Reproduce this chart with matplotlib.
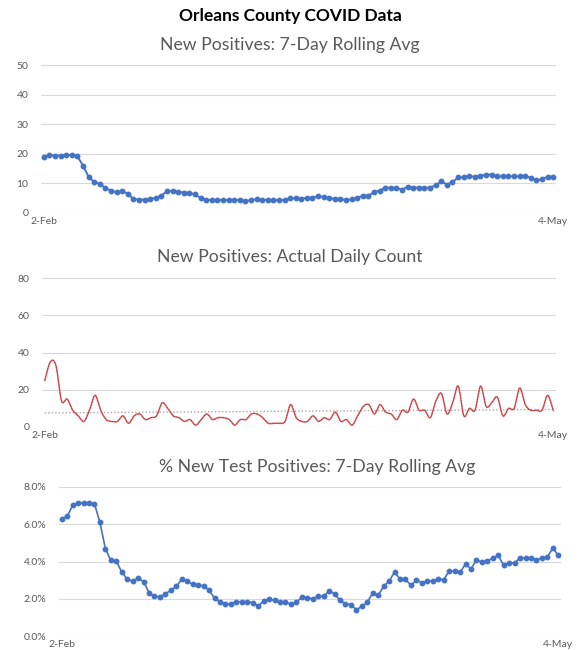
import numpy as np
import matplotlib
matplotlib.use("Agg")
import matplotlib.pyplot as plt
from matplotlib.ticker import FuncFormatter

plt.rcParams['font.family'] = ['Lato', 'DejaVu Sans']

main_title = "Orleans County COVID Data"
titles = ["New Positives: 7-Day Rolling Avg",
          "New Positives: Actual Daily Count",
          "% New Test Positives: 7-Day Rolling Avg"]
x_labels = ["2-Feb", "4-May"]

rolling_avg = [18.8, 19.6, 19.4, 19.4, 19.5, 19.7, 19.2, 16.0, 12.3, 10.4,
               9.9, 8.4, 7.5, 7.0, 7.5, 6.5, 4.8, 4.5, 4.5, 4.8,
               5.1, 5.9, 7.3, 7.4, 7.2, 6.9, 6.8, 6.3, 5.0, 4.5,
               4.3, 4.3, 4.4, 4.4, 4.4, 4.4, 4.0, 4.4, 4.6, 4.5,
               4.4, 4.4, 4.3, 4.4, 5.0, 4.9, 4.8, 5.1, 5.2, 5.6,
               5.5, 5.0, 4.8, 4.8, 4.3, 4.7, 5.0, 5.9, 5.9, 7.0,
               7.6, 8.6, 8.5, 8.4, 7.9, 8.9, 8.6, 8.6, 8.5, 8.6,
               9.3, 10.7, 9.6, 10.4, 12.0, 12.0, 12.6, 12.1, 12.5, 13.0,
               13.0, 12.4, 12.4, 12.4, 12.4, 12.4, 12.5, 11.9, 11.0, 11.4,
               12.3, 12.3]

daily_count = [25, 35, 33, 14, 15, 9, 6, 3, 9, 17,
               9, 4, 3, 3, 6, 2, 6, 7, 4, 5,
               6, 13, 10, 6, 5, 3, 4, 1, 4, 7,
               4, 5, 5, 4, 1, 4, 4, 7, 7, 5,
               2, 2, 2, 3, 12, 5, 3, 3, 6, 3,
               5, 4, 8, 3, 4, 1, 6, 11, 12, 7,
               12, 8, 7, 4, 9, 8, 15, 9, 9, 5,
               14, 18, 7, 13, 22, 6, 10, 9, 22, 11,
               13, 16, 6, 10, 10, 21, 12, 9, 9, 9,
               17, 9]

pct_positive = [6.30, 6.42, 7.01, 7.14, 7.14, 7.16, 7.10, 6.10, 4.69, 4.06,
                4.02, 3.43, 3.06, 2.93, 3.11, 2.92, 2.33, 2.13, 2.09, 2.27,
                2.45, 2.67, 3.04, 2.95, 2.77, 2.72, 2.70, 2.45, 2.04, 1.84,
                1.70, 1.74, 1.84, 1.84, 1.84, 1.79, 1.61, 1.88, 1.97, 1.91,
                1.82, 1.82, 1.70, 1.80, 2.09, 2.05, 2.00, 2.13, 2.13, 2.42,
                2.27, 1.91, 1.74, 1.68, 1.41, 1.59, 1.82, 2.31, 2.18, 2.67,
                2.95, 3.43, 3.06, 3.04, 2.72, 2.99, 2.86, 2.95, 2.95, 3.08,
                3.02, 3.49, 3.49, 3.43, 3.85, 3.61, 4.06, 3.99, 4.01, 4.19,
                4.33, 3.79, 3.92, 3.92, 4.20, 4.19, 4.20, 4.10, 4.17, 4.24,
                4.72, 4.33]

W, H = 579, 650
fig = plt.figure(figsize=(W / 100, H / 100), dpi=100)
fig.patch.set_facecolor("white")

def ax_at(left, right, top, bottom):
    return fig.add_axes([left / W, 1 - bottom / H, (right - left) / W, (bottom - top) / H])

BLUE = "#4472C4"
GRID = "#d9d9d9"
TXT = "#595959"

def style(ax, ymax, step, fmt=None):
    n = len(rolling_avg)
    ax.set_xlim(-0.5, n - 0.5)
    ax.set_ylim(0, ymax)
    ax.set_yticks(np.arange(0, ymax + step / 2, step))
    for s in ax.spines.values():
        s.set_visible(False)
    ax.grid(axis="y", color=GRID, linewidth=0.8)
    ax.set_axisbelow(True)
    ax.tick_params(axis="both", length=0, labelsize=7.5, colors=TXT, pad=9)
    ax.tick_params(axis="x", pad=3)
    if fmt:
        ax.yaxis.set_major_formatter(FuncFormatter(fmt))
    ax.set_xticks([0, n - 1])
    ax.set_xticklabels(x_labels)

fig.text(290 / W, 1 - 16 / H, main_title, ha="center", va="center",
         fontsize=12.5, fontweight="bold", color="black")

x = np.arange(len(rolling_avg))

# Panel 1
ax1 = ax_at(41, 556, 65, 213)
style(ax1, 50, 10)
ax1.plot(x, rolling_avg, color=BLUE, lw=1.4, marker="o", ms=3.2, zorder=3)
fig.text(290 / W, 1 - 45 / H, titles[0], ha="center", va="center", fontsize=12.7, color=TXT)

# Panel 2 - smoothed line (Catmull-Rom)
def catmull_rom(xs, ys, k=12):
    xs = np.asarray(xs, float)
    ys = np.asarray(ys, float)
    px = np.concatenate([[xs[0]], xs, [xs[-1]]])
    py = np.concatenate([[ys[0]], ys, [ys[-1]]])
    ox, oy = [], []
    t = np.linspace(0, 1, k, endpoint=False)
    for i in range(1, len(px) - 2):
        for arr, out in ((px, ox), (py, oy)):
            p0, p1, p2, p3 = arr[i - 1], arr[i], arr[i + 1], arr[i + 2]
            out.extend(0.5 * ((2 * p1) + (-p0 + p2) * t + (2 * p0 - 5 * p1 + 4 * p2 - p3) * t ** 2
                              + (-p0 + 3 * p1 - 3 * p2 + p3) * t ** 3))
    ox.append(xs[-1])
    oy.append(ys[-1])
    return np.array(ox), np.array(oy)

ax2 = ax_at(42, 556, 278, 427)
style(ax2, 80, 20)
sx, sy = catmull_rom(x, daily_count)
ax2.plot(sx, sy, color="#e05a5e", lw=1.1, zorder=3)
ax2.plot(sx, sy, color="#5a1a1a", lw=0.5, ls=(0, (2, 2)), alpha=0.55, zorder=4)
coef = np.polyfit(x, daily_count, 1)
ax2.plot(x, np.polyval(coef, x), color="#b0a4a4", lw=1.0, ls=(0, (1, 1.5)), zorder=2)
fig.text(290 / W, 1 - 257 / H, titles[1], ha="center", va="center", fontsize=12.7, color=TXT)

# Panel 3
ax3 = ax_at(59, 561, 487, 636)
style(ax3, 8, 2, fmt=lambda v, p: f"{v:.1f}%")
ax3.plot(x, pct_positive, color=BLUE, lw=1.2, marker="o", ms=3.2, zorder=3)
fig.text(317 / W, 1 - 467 / H, titles[2], ha="center", va="center", fontsize=12.7, color=TXT)

fig.savefig("out.png", dpi=100, facecolor="white")
